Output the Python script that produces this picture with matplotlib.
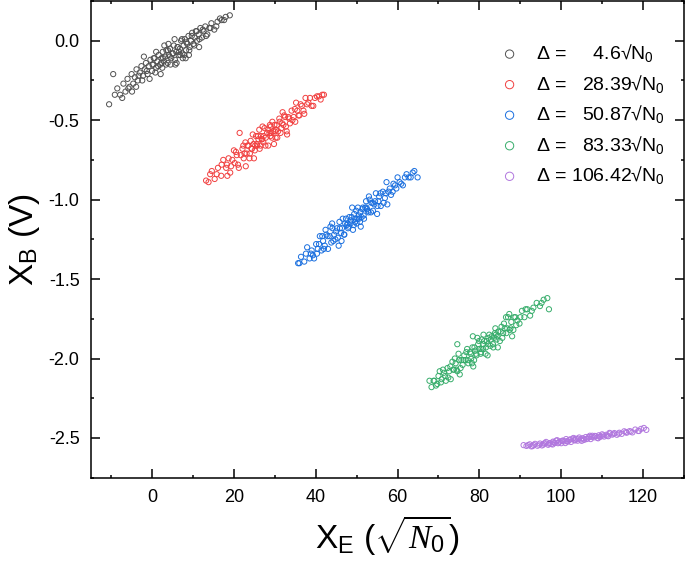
import matplotlib
matplotlib.use("Agg")
import matplotlib.pyplot as plt
from matplotlib.ticker import MultipleLocator

plt.rcParams['font.family'] = ['Liberation Sans', 'DejaVu Sans']
plt.rcParams['mathtext.fontset'] = 'custom'
plt.rcParams['mathtext.rm'] = 'Liberation Sans'
plt.rcParams['mathtext.it'] = 'Liberation Serif:italic'
plt.rcParams['mathtext.bf'] = 'Liberation Sans:bold'

# valores leidos a ojo de la figura
deltas = ["4.6", "28.39", "50.87", "83.33", "106.42"]
colores = ['#515151', '#F14040', '#1A6FDF', '#37AD6B', '#B177DE']

gris_x = [-10.5, -9.5, -8.5, -7.8, -7.0, -6.5, -6.0, -5.5, -5.0, -4.6, -4.2, -3.8, -3.5, -3.0, -2.6,
          -2.2, -1.8, -1.5, -1.1, -0.8, -0.4, 0.0, 0.3, 0.6, 1.0, 1.3, 1.6, 2.0, 2.3, 2.6, 2.9, 3.2,
          3.5, 3.8, 4.1, 4.4, 4.7, 5.0, 5.3, 5.6, 5.9, 6.2, 6.5, 6.8, 7.1, 7.4, 7.7, 8.0, 8.3, 8.6,
          8.9, 9.2, 9.5, 9.8, 10.1, 10.4, 10.7, 11.0, 11.4, 11.8, 12.2, 12.6, 13.0, 13.5, 14.0, 14.5,
          15.2, 16.0, 17.0, 18.0, 19.0, 2.5, 4.0, 6.0, 3.0, 7.5, 5.5, 1.0, 9.0, -2.0, 11.5,
          -9.1, -7.3, -5.8, -4.9, -3.3, -2.4, -1.3, -0.6, 0.1, 0.8, 1.5, 2.1, 2.7, 3.4, 3.9, 4.5,
          5.1, 5.7, 6.3, 6.9, 7.3, 7.9, 8.4, 9.1, 9.7, 10.3, 10.9, 11.6, 12.4, 13.2, 14.3, 15.7,
          16.6, 17.6, 6.6, 4.3, 2.2, 8.2, 0.4, -3.9]
gris_y = [-0.40, -0.21, -0.30, -0.34, -0.27, -0.32, -0.24, -0.29, -0.21, -0.27, -0.23, -0.18, -0.25,
          -0.20, -0.16, -0.22, -0.18, -0.14, -0.21, -0.16, -0.12, -0.19, -0.15, -0.11, -0.17, -0.13,
          -0.09, -0.15, -0.11, -0.07, -0.13, -0.10, -0.06, -0.14, -0.09, -0.05, -0.11, -0.08, -0.03,
          -0.12, -0.07, -0.04, -0.09, -0.05, 0.00, -0.08, -0.03, 0.01, -0.06, -0.02, 0.03, -0.04,
          0.00, 0.05, -0.02, 0.02, 0.06, 0.00, 0.04, 0.08, 0.02, 0.06, 0.09, 0.04, 0.08, 0.11, 0.07,
          0.12, 0.13, 0.15, 0.16, -0.17, -0.02, -0.14, -0.03, -0.11, 0.01, -0.07, -0.09, -0.10, -0.04,
          -0.34, -0.36, -0.30, -0.32, -0.22, -0.25, -0.19, -0.24, -0.15, -0.20, -0.16, -0.21, -0.11,
          -0.15, -0.06, -0.15, -0.08, -0.15, -0.04, -0.09, 0.01, -0.09, -0.01, -0.06, 0.03, -0.03,
          0.06, 0.01, 0.07, 0.03, 0.08, 0.09, 0.14, 0.13, -0.07, -0.10, -0.14, -0.11, -0.11, -0.29]

rojo_x = [13.2, 14.6, 15.3, 16.1, 16.9, 17.4, 18.1, 18.7, 19.1, 19.6, 20.2, 20.5, 21.0, 21.4, 21.7,
          22.1, 22.4, 22.8, 23.1, 23.5, 23.8, 24.1, 24.4, 24.8, 25.1, 25.4, 25.7, 26.0, 26.3, 26.6,
          26.9, 27.2, 27.5, 27.8, 28.1, 28.4, 28.7, 29.0, 29.3, 29.6, 29.9, 30.2, 30.5, 30.8, 31.1,
          31.4, 31.8, 32.1, 32.5, 32.9, 33.3, 33.7, 34.1, 34.6, 35.0, 35.5, 36.0, 36.6, 37.2, 37.9,
          38.6, 39.4, 40.3, 41.2, 42.0, 24.9, 27.0, 29.8, 31.9, 26.2, 33.0, 22.9, 35.2, 20.0, 28.8,
          30.3, 25.6, 37.5, 18.4, 13.8,
          14.2, 15.8, 17.0, 18.3, 19.3, 20.7, 21.2, 22.3, 22.6, 23.3, 23.9, 24.6, 25.2, 25.9, 26.5,
          27.3, 27.7, 28.3, 28.9, 29.4, 30.0, 30.6, 31.2, 31.6, 32.3, 32.7, 33.5, 34.3, 34.9, 35.8,
          36.3, 37.0, 38.2, 39.0, 39.8, 40.8, 41.6, 26.8, 29.1, 24.3]
rojo_y = [-0.88, -0.82, -0.87, -0.80, -0.85, -0.75, -0.80, -0.74, -0.83, -0.75, -0.77, -0.70, -0.78,
          -0.58, -0.72, -0.68, -0.74, -0.64, -0.71, -0.66, -0.74, -0.63, -0.68, -0.65, -0.69, -0.60,
          -0.66, -0.62, -0.68, -0.60, -0.62, -0.64, -0.55, -0.61, -0.58, -0.66, -0.58, -0.54, -0.61,
          -0.57, -0.53, -0.61, -0.53, -0.57, -0.49, -0.58, -0.52, -0.53, -0.48, -0.57, -0.48, -0.52,
          -0.44, -0.48, -0.51, -0.44, -0.47, -0.41, -0.46, -0.40, -0.36, -0.41, -0.35, -0.37, -0.34,
          -0.74, -0.54, -0.65, -0.45, -0.56, -0.59, -0.79, -0.39, -0.69, -0.53, -0.56, -0.65, -0.36,
          -0.85, -0.89,
          -0.84, -0.84, -0.78, -0.78, -0.79, -0.72, -0.80, -0.66, -0.71, -0.66, -0.71, -0.59, -0.66,
          -0.60, -0.66, -0.60, -0.66, -0.56, -0.60, -0.51, -0.57, -0.61, -0.51, -0.55, -0.47, -0.54,
          -0.49, -0.50, -0.43, -0.47, -0.40, -0.44, -0.39, -0.41, -0.36, -0.35, -0.34, -0.62, -0.58,
          -0.68]

azul_x = [35.7, 36.4, 37.2, 37.9, 38.5, 39.0, 39.6, 40.1, 40.5, 41.0, 41.4, 41.8, 42.2, 42.6, 43.0,
          43.4, 43.8, 44.1, 44.5, 44.8, 45.2, 45.6, 45.9, 46.2, 46.6, 46.9, 47.2, 47.6, 47.9, 48.2,
          48.5, 48.8, 49.1, 49.4, 49.7, 50.0, 50.3, 50.6, 50.9, 51.2, 51.5, 51.8, 52.1, 52.5, 52.8,
          53.2, 53.5, 53.9, 54.3, 54.7, 55.1, 55.5, 55.9, 56.4, 56.9, 57.3, 57.8, 58.4, 59.0, 59.7,
          60.5, 61.3, 62.2, 63.2, 64.1, 64.9, 46.3, 48.9, 51.0, 53.0, 44.0, 55.0, 42.4, 57.5, 49.6,
          52.4, 47.8, 39.3, 60.0, 50.5,
          36.0, 37.6, 38.8, 40.3, 40.8, 41.6, 42.0, 42.9, 43.6, 44.3, 44.9, 45.4, 45.8, 46.4, 47.0,
          47.4, 48.0, 48.6, 49.3, 49.9, 50.2, 50.8, 51.4, 51.7, 52.3, 52.9, 53.6, 54.0, 54.5, 55.3,
          55.8, 56.6, 57.1, 58.1, 58.8, 59.4, 60.9, 61.8, 62.7, 63.7]
azul_y = [-1.40, -1.36, -1.39, -1.30, -1.37, -1.32, -1.37, -1.28, -1.31, -1.23, -1.32, -1.26, -1.29,
          -1.22, -1.31, -1.23, -1.27, -1.18, -1.22, -1.25, -1.18, -1.29, -1.18, -1.21, -1.12, -1.22,
          -1.15, -1.16, -1.18, -1.11, -1.15, -1.11, -1.19, -1.09, -1.12, -1.15, -1.05, -1.12, -1.08,
          -1.11, -1.05, -1.12, -1.05, -1.06, -1.07, -1.00, -1.08, -1.02, -1.03, -0.96, -1.04, -0.98,
          -1.04, -0.95, -0.99, -0.89, -0.95, -0.97, -0.90, -0.93, -0.89, -0.91, -0.84, -0.86, -0.82,
          -0.86, -1.26, -1.05, -1.17, -0.98, -1.15, -1.09, -1.19, -1.03, -1.14, -1.05, -1.15, -1.35,
          -0.86, -1.10,
          -1.40, -1.34, -1.34, -1.34, -1.28, -1.23, -1.31, -1.23, -1.17, -1.26, -1.20, -1.24, -1.14,
          -1.18, -1.22, -1.12, -1.17, -1.13, -1.16, -1.07, -1.12, -1.14, -1.06, -1.10, -1.01, -1.08,
          -1.02, -1.07, -1.01, -1.01, -0.96, -1.02, -0.96, -0.93, -0.95, -0.91, -0.90, -0.86, -0.86,
          -0.83]

verde_x = [67.8, 68.3, 69.0, 69.7, 70.3, 70.8, 71.3, 71.8, 72.2, 72.6, 73.0, 73.4, 73.8, 74.2, 74.6,
           74.9, 75.2, 75.6, 75.9, 76.3, 76.6, 77.0, 77.3, 77.7, 78.0, 78.3, 78.7, 79.0, 79.3, 79.7,
           80.0, 80.3, 80.6, 80.9, 81.2, 81.5, 81.8, 82.1, 82.4, 82.7, 83.0, 83.3, 83.6, 83.9, 84.2,
           84.6, 85.0, 85.4, 85.8, 86.2, 86.6, 87.0, 87.4, 87.8, 88.3, 88.8, 89.3, 89.8, 90.4, 91.0,
           91.7, 92.4, 93.2, 94.0, 94.8, 95.7, 96.6, 97.0, 74.6, 79.5, 82.0, 84.5, 86.5, 88.0, 81.0,
           78.5, 84.0, 80.5, 78.4, 87.3,
           68.8, 69.4, 70.0, 70.6, 71.1, 71.6, 72.4, 72.9, 73.6, 74.0, 74.4, 75.0, 75.4, 76.1, 76.8,
           77.2, 77.9, 78.2, 78.8, 79.2, 79.9, 80.4, 81.0, 81.6, 82.2, 82.8, 83.4, 83.8, 84.4, 85.2,
           85.6, 86.0, 86.8, 87.6, 88.5, 89.0, 90.0, 91.3, 92.8, 95.2]
verde_y = [-2.14, -2.18, -2.14, -2.16, -2.08, -2.13, -2.09, -2.14, -2.06, -2.08, -2.13, -2.02, -2.07,
           -2.03, -2.08, -1.97, -2.10, -2.01, -2.04, -1.98, -2.01, -1.94, -2.03, -1.96, -2.00, -1.93,
           -2.01, -1.95, -1.98, -1.91, -1.94, -1.97, -1.88, -1.94, -1.89, -1.97, -1.89, -1.91, -1.85,
           -1.92, -1.86, -1.91, -1.87, -1.81, -1.88, -1.83, -1.89, -1.80, -1.84, -1.81, -1.84, -1.74,
           -1.82, -1.77, -1.82, -1.74, -1.76, -1.78, -1.70, -1.74, -1.69, -1.73, -1.68, -1.65, -1.67,
           -1.63, -1.62, -1.69, -1.91, -1.87, -1.98, -1.93, -1.74, -1.86, -1.85, -2.05, -1.85, -1.94,
           -1.86, -1.72,
           -2.14, -2.17, -2.11, -2.15, -2.07, -2.11, -2.12, -2.05, -2.07, -2.00, -2.07, -2.01, -2.06,
           -2.01, -1.96, -2.01, -1.97, -2.03, -1.93, -1.97, -1.89, -1.96, -1.91, -1.93, -1.87, -1.88,
           -1.93, -1.84, -1.86, -1.83, -1.87, -1.78, -1.81, -1.81, -1.74, -1.79, -1.74, -1.69, -1.70,
           -1.65]

morado_x = [90.8, 91.5, 92.3, 93.0, 93.6, 94.2, 94.8, 95.3, 95.8, 96.3, 96.8, 97.2, 97.6, 98.0, 98.4,
            98.8, 99.2, 99.6, 100.0, 100.4, 100.8, 101.2, 101.6, 102.0, 102.4, 102.8, 103.2, 103.6,
            104.0, 104.4, 104.8, 105.2, 105.6, 106.0, 106.4, 106.8, 107.2, 107.6, 108.0, 108.4,
            108.8, 109.2, 109.6, 110.0, 110.5, 111.0, 111.5, 112.0, 112.5, 113.0, 113.6, 114.2,
            114.8, 115.4, 116.0, 116.7, 117.4, 118.1, 118.8, 119.5, 120.2, 120.8, 101.0, 103.0,
            105.0, 107.0, 109.0, 99.0, 111.8, 97.9,
            91.9, 92.7, 93.3, 94.5, 95.6, 96.1, 97.0, 98.2, 99.4, 100.2, 101.4, 102.2, 103.4, 104.2,
            105.4, 106.2, 107.4, 108.2, 109.4, 110.2, 111.2, 112.8, 114.0, 115.8, 117.0, 119.0]
morado_y = [-2.545, -2.550, -2.540, -2.551, -2.537, -2.549, -2.535, -2.547, -2.535, -2.525, -2.543,
            -2.532, -2.538, -2.523, -2.532, -2.517, -2.533, -2.522, -2.533, -2.516, -2.521, -2.507,
            -2.523, -2.512, -2.525, -2.505, -2.514, -2.505, -2.517, -2.497, -2.510, -2.502, -2.512,
            -2.494, -2.503, -2.494, -2.507, -2.486, -2.496, -2.489, -2.499, -2.483, -2.492, -2.477,
            -2.491, -2.480, -2.489, -2.472, -2.479, -2.469, -2.480, -2.467, -2.474, -2.458, -2.467,
            -2.457, -2.465, -2.447, -2.456, -2.443, -2.437, -2.449, -2.532, -2.500, -2.518, -2.486,
            -2.502, -2.514, -2.468, -2.541,
            -2.545, -2.553, -2.544, -2.542, -2.542, -2.533, -2.536, -2.527, -2.529, -2.519, -2.520,
            -2.509, -2.515, -2.505, -2.504, -2.507, -2.494, -2.487, -2.492, -2.484, -2.486, -2.474,
            -2.473, -2.463, -2.460, -2.456]

series = [(gris_x, gris_y), (rojo_x, rojo_y), (azul_x, azul_y), (verde_x, verde_y), (morado_x, morado_y)]
huecos = ["     ", "   ", "   ", "   ", " "]

fig = plt.figure(figsize=(6.85, 5.61), dpi=100)
ax = fig.add_axes([0.1324, 0.1485, 0.8661, 0.8497])

for (xs, ys), d, c, h in zip(series, deltas, colores, huecos):
    ax.scatter(xs, ys, s=14, facecolors='none', edgecolors=c, linewidths=0.7,
               label="Δ =" + h + d + r"√$\mathrm{N_0}$")

ax.set_xlim(-15, 130)
ax.set_ylim(-2.75, 0.25)
ax.xaxis.set_major_locator(MultipleLocator(20))
ax.xaxis.set_minor_locator(MultipleLocator(10))
ax.yaxis.set_major_locator(MultipleLocator(0.5))
ax.yaxis.set_minor_locator(MultipleLocator(0.25))
ax.yaxis.set_major_formatter(plt.FuncFormatter(lambda v, p: f"{v:.1f}"))
ax.tick_params(which='both', direction='in', top=True, right=True, width=1.1, labelsize=13, pad=8)
ax.tick_params(which='major', length=6.5)
ax.tick_params(which='minor', length=2.5)
for s in ax.spines.values():
    s.set_linewidth(1.1)

ax.set_xlabel(r"X$_\mathrm{E}$ ($\sqrt{N_0}$)", fontsize=24, labelpad=6)
ax.set_ylabel(r"X$_\mathrm{B}$ (V)", fontsize=24, labelpad=5)

ax.legend(loc='upper left', bbox_to_anchor=(0.67, 0.934), frameon=False, fontsize=14,
          markerscale=1.6, handletextpad=0.75, labelspacing=0.44, borderpad=0, handlelength=1.2)

fig.savefig("out.png", dpi=100)
